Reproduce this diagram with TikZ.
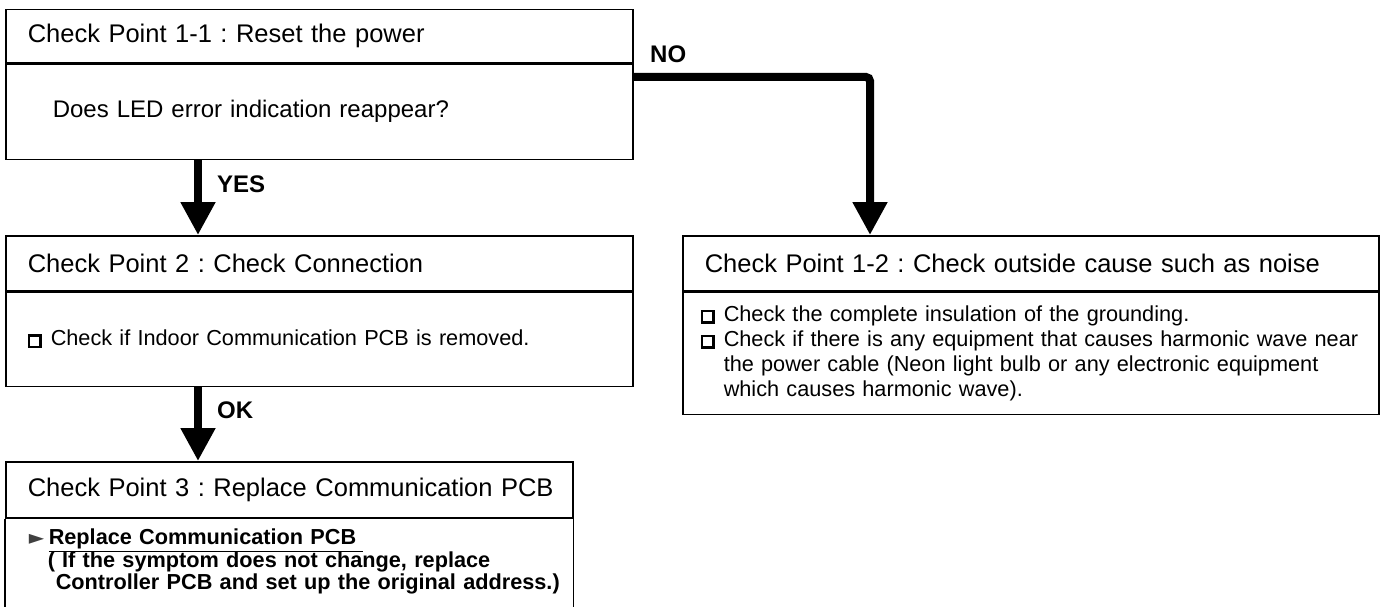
\documentclass[tikz,border=0pt]{standalone}
\usepackage{fontspec}
\setmainfont{Liberation Sans}
\newfontfamily\symfont{DejaVu Sans}
\usetikzlibrary{arrows.meta}
\frenchspacing

\newcommand{\hdrfont}{\fontsize{25.5}{30}\selectfont}
\newcommand{\bodyfont}{\fontsize{21.7}{25}\selectfont}
\newcommand{\chk}{\makebox[23pt][l]{\setlength{\fboxsep}{0pt}\setlength{\fboxrule}{2.7pt}\fbox{\rule{0pt}{9pt}\hspace{9pt}}}}
\newcommand{\pointer}{\makebox[20pt][l]{\fontsize{20}{20}\symfont\color{black!75}\raisebox{0.5pt}{►}}}

\tikzset{
  hdr/.style={draw, line width=1.5pt, anchor=north west, inner xsep=22pt, inner ysep=0pt, align=left, font=\hdrfont},
  bdy/.style={draw, line width=1.5pt, anchor=north west, inner ysep=0pt, align=left, font=\bodyfont},
  flow/.style={line width=8pt, -{Triangle[width=33pt,length=33pt]}},
  answer/.style={anchor=base west, inner sep=0pt, font=\fontsize{24}{28}\selectfont\bfseries}
}

\begin{document}
\begin{tikzpicture}[x=1pt, y=-1pt]
  \useasboundingbox (0,0) rectangle (1389,607);

  % Check point 1-1
  \node[hdr, text width=583pt, minimum height=53pt] (cp11) at (5,9) {Check Point 1-1 : Reset the power};
  \node[bdy, font=\fontsize{24}{28}\selectfont, inner xsep=47pt, text width=533pt, minimum height=95pt] (cp11b) at (cp11.south west) {Does LED error indication reappear?};

  % Check point 2
  \node[hdr, text width=583pt, minimum height=55pt] (cp2) at (5,235) {Check Point 2 : Check Connection};
  \node[bdy, inner xsep=22pt, text width=583pt, minimum height=94pt] (cp2b) at (cp2.south west) {\chk Check if Indoor Communication PCB is removed.};

  % Check point 3 (runs off the bottom)
  \node[hdr, text width=523pt, minimum height=56pt] (cp3) at (5,461) {\mbox{Check Point 3 : Replace Communication PCB}};
  \node[bdy, draw=none, inner xsep=23pt, inner ysep=10pt, text width=560pt, font=\fontsize{21.7}{22.5}\selectfont\bfseries] (cp3b) at (cp3.south west)
    {\pointer\underline{Replace Communication PCB\ }\\
     \hspace*{19pt}( If the symptom does not change, replace\\
     \hspace*{27pt}Controller PCB and set up the original address.)};
  \coordinate (cut) at (0,620);
  \draw[line width=1.5pt] (cp3.south west) -- (cp3.south west |- cut);
  \draw[line width=1.5pt] (cp3.south east) -- (cp3.south east |- cut);

  % Check point 1-2
  \node[hdr, text width=652pt, minimum height=55pt] (cp12) at (682,235) {Check Point 1-2 : Check outside cause such as noise};
  \node[bdy, inner xsep=18pt, text width=660pt, minimum height=122pt] (cp12b) at (cp12.south west)
    {\chk Check the complete insulation of the grounding.\\
     \chk Check if there is any equipment that causes harmonic wave near\\
     \hspace*{23pt}the power cable (Neon light bulb or any electronic equipment\\
     \hspace*{23pt}which causes harmonic wave).};

  % Answers
  \coordinate (downx) at (198,0);
  \coordinate (noturn) at (870,77);
  \draw[flow] (cp11b.south -| downx) -- (cp2.north -| downx);
  \draw[flow] (cp2b.south -| downx) -- (cp3.north -| downx);
  \draw[flow, rounded corners=4pt] (cp11b.east |- noturn) -| (cp12.north -| noturn);
  \node[answer] (yes) at (217,192) {YES};
  \node[answer] (ok) at (217,418) {OK};
  \node[answer] (no) at (650,63) {NO};
\end{tikzpicture}
\end{document}
